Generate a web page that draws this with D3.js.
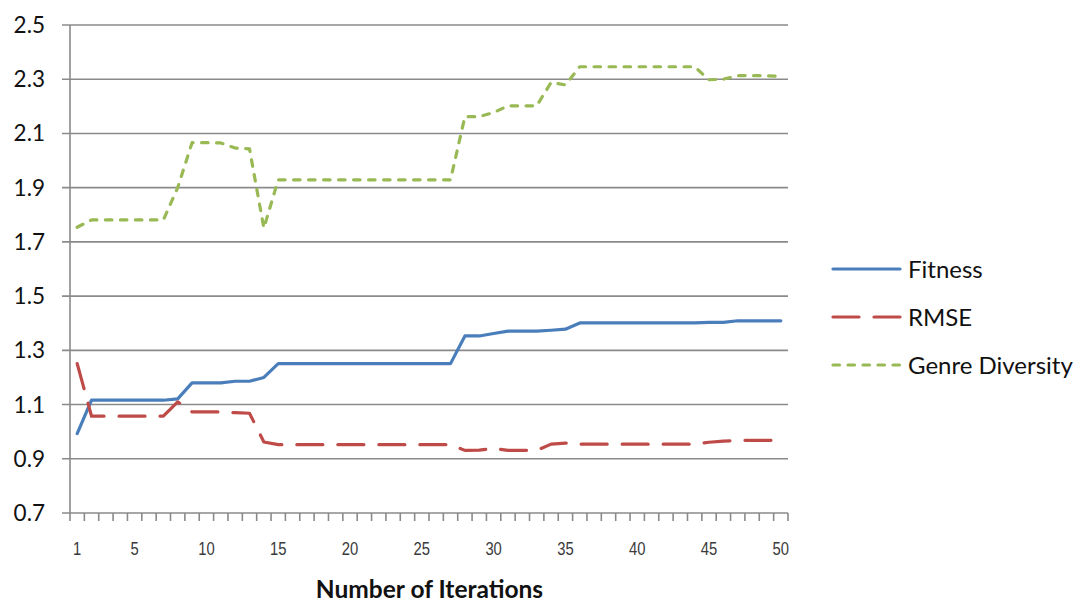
<!DOCTYPE html>
<html>
<head>
<meta charset="utf-8">
<script src="https://cdn.jsdelivr.net/npm/d3@7/dist/d3.min.js"></script>
<style>
  html, body { margin: 0; padding: 0; background: #fff; }
  svg { display: block; }
</style>
</head>
<body>
<svg id="chart" width="1083" height="602"></svg>
<script>
// Iteration numbers 1..50
const iterations = [
  1, 2, 3, 4, 5, 6, 7, 8, 9, 10,
  11, 12, 13, 14, 15, 16, 17, 18, 19, 20,
  21, 22, 23, 24, 25, 26, 27, 28, 29, 30,
  31, 32, 33, 34, 35, 36, 37, 38, 39, 40,
  41, 42, 43, 44, 45, 46, 47, 48, 49, 50
];

const fitness = [
  0.993, 1.116, 1.116, 1.116, 1.116, 1.116, 1.116, 1.121, 1.180, 1.180,
  1.180, 1.186, 1.186, 1.200, 1.251, 1.251, 1.251, 1.251, 1.251, 1.251,
  1.251, 1.251, 1.251, 1.251, 1.251, 1.251, 1.251, 1.353, 1.353, 1.362,
  1.371, 1.371, 1.371, 1.374, 1.378, 1.401, 1.401, 1.401, 1.401, 1.401,
  1.401, 1.401, 1.401, 1.401, 1.403, 1.403, 1.409, 1.409, 1.409, 1.409
];

const rmse = [
  1.251, 1.057, 1.057, 1.057, 1.057, 1.057, 1.057, 1.110, 1.073, 1.073,
  1.073, 1.070, 1.068, 0.962, 0.952, 0.952, 0.952, 0.952, 0.952, 0.952,
  0.952, 0.952, 0.952, 0.952, 0.952, 0.952, 0.952, 0.931, 0.932, 0.938,
  0.931, 0.931, 0.931, 0.954, 0.958, 0.954, 0.954, 0.954, 0.954, 0.954,
  0.954, 0.954, 0.954, 0.954, 0.961, 0.965, 0.968, 0.968, 0.968, 0.968
];

const genreDiversity = [
  1.754, 1.781, 1.781, 1.781, 1.781, 1.781, 1.781, 1.900, 2.066, 2.066,
  2.065, 2.046, 2.043, 1.751, 1.929, 1.929, 1.929, 1.929, 1.929, 1.929,
  1.929, 1.929, 1.929, 1.929, 1.929, 1.929, 1.929, 2.162, 2.162, 2.177,
  2.202, 2.202, 2.202, 2.288, 2.279, 2.346, 2.346, 2.346, 2.346, 2.346,
  2.346, 2.346, 2.346, 2.346, 2.298, 2.300, 2.313, 2.313, 2.313, 2.310
];

const yTicks = [0.7, 0.9, 1.1, 1.3, 1.5, 1.7, 1.9, 2.1, 2.3, 2.5];
const xTickLabels = [1, 5, 10, 15, 20, 25, 30, 35, 40, 45, 50];

const seriesNames = ["Fitness", "RMSE", "Genre Diversity"];

const series = [
  { name: seriesNames[0], values: fitness, color: "#4a7ebb", dash: null },
  { name: seriesNames[1], values: rmse, color: "#be4b48", dash: "26,15" },
  { name: seriesNames[2], values: genreDiversity, color: "#98b954", dash: "6.5,8.5" }
];

const svg = d3.select("#chart");
const plot = { left: 70, right: 788, top: 25, bottom: 513 };
const gridColor = "#8a8a8a";
const uiFont = "Lato, 'Open Sans', sans-serif";

const x = d3.scaleBand()
  .domain(iterations)
  .range([plot.left, plot.right])
  .paddingInner(0).paddingOuter(0);

const y = d3.scaleLinear()
  .domain([0.7, 2.5])
  .range([plot.bottom, plot.top]);

const cx = d => x(d) + x.bandwidth() / 2;

// Horizontal gridlines (extend left as tick marks)
svg.append("g")
  .selectAll("line")
  .data(yTicks)
  .join("line")
  .attr("x1", plot.left - 8)
  .attr("x2", plot.right)
  .attr("y1", d => y(d))
  .attr("y2", d => y(d))
  .attr("stroke", gridColor)
  .attr("stroke-width", 1.6);

// Y axis labels
svg.append("g")
  .selectAll("text")
  .data(yTicks)
  .join("text")
  .attr("x", 45)
  .attr("y", d => y(d) + 8)
  .attr("text-anchor", "end")
  .attr("font-family", uiFont)
  .attr("font-size", 22.5)
  .attr("fill", "#111")
  .text(d => d3.format(".1f")(d));

// Y axis line
svg.append("line")
  .attr("x1", plot.left).attr("x2", plot.left)
  .attr("y1", plot.top).attr("y2", plot.bottom)
  .attr("stroke", gridColor)
  .attr("stroke-width", 1.6);

// X axis tick marks at category boundaries
const boundaries = iterations.map(d => x(d)).concat([plot.right]);
svg.append("g")
  .selectAll("line")
  .data(boundaries)
  .join("line")
  .attr("x1", d => d).attr("x2", d => d)
  .attr("y1", plot.bottom).attr("y2", plot.bottom + 8)
  .attr("stroke", gridColor)
  .attr("stroke-width", 1.6);

// X tick labels, condensed
svg.append("g")
  .selectAll("text")
  .data(xTickLabels)
  .join("text")
  .attr("transform", d => `translate(${cx(d)},555) scale(0.8,1)`)
  .attr("text-anchor", "middle")
  .attr("font-family", "'Liberation Sans', Arial, sans-serif")
  .attr("font-size", 18.5)
  .attr("fill", "#3a3a3a")
  .text(d => d);

// X axis title
svg.append("text")
  .attr("x", 429.5)
  .attr("y", 598)
  .attr("text-anchor", "middle")
  .attr("font-family", uiFont)
  .attr("font-weight", "bold")
  .attr("font-size", 24.5)
  .attr("fill", "#111")
  .text("Number of Iterations");

// Series lines
const line = d3.line()
  .x((d, i) => cx(iterations[i]))
  .y(d => y(d));

svg.append("g")
  .selectAll("path")
  .data(series)
  .join("path")
  .attr("d", d => line(d.values))
  .attr("fill", "none")
  .attr("stroke", d => d.color)
  .attr("stroke-width", 3.2)
  .attr("stroke-linecap", "round")
  .attr("stroke-linejoin", "round")
  .attr("stroke-dasharray", d => d.dash);

// Legend
const legendY = d3.scalePoint().domain(seriesNames).range([269, 365]);
const legend = svg.append("g")
  .selectAll("g")
  .data(series)
  .join("g")
  .attr("transform", d => `translate(0,${legendY(d.name)})`);

legend.append("line")
  .attr("x1", 833).attr("x2", 900)
  .attr("y1", 0).attr("y2", 0)
  .attr("stroke", d => d.color)
  .attr("stroke-width", 3.2)
  .attr("stroke-linecap", "round")
  .attr("stroke-dasharray", d => d.dash);

legend.append("text")
  .attr("x", 908)
  .attr("y", 8.5)
  .attr("font-family", uiFont)
  .attr("font-size", 24)
  .attr("fill", "#111")
  .text(d => d.name);
</script>
</body>
</html>
